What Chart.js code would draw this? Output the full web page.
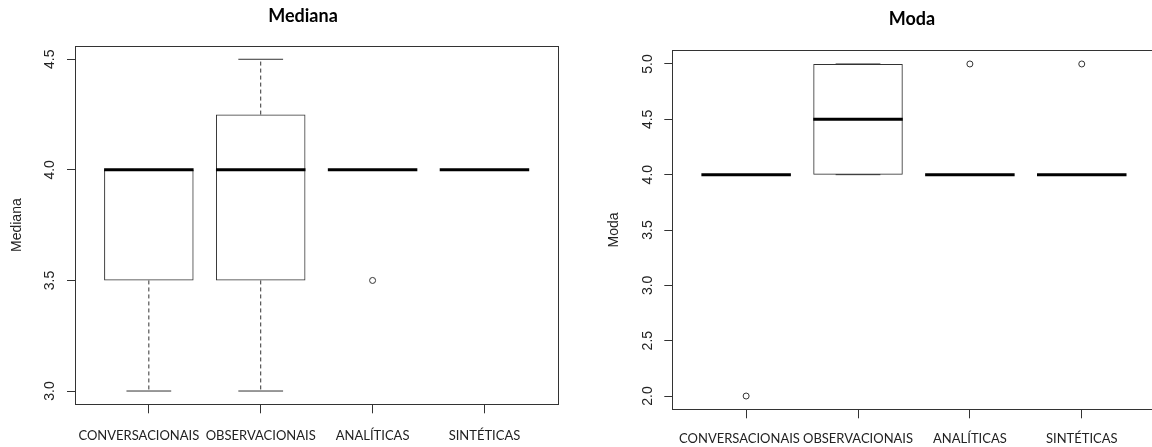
<!DOCTYPE html>
<html><head><meta charset="utf-8">
<script src="https://cdn.jsdelivr.net/npm/chart.js@4.4.1/dist/chart.umd.min.js"></script>
<style>
html,body{margin:0;padding:0;background:#fff;overflow:hidden;width:1152px;height:447px;position:relative;}
canvas{position:absolute;top:0;}
#c1{left:0px;} #c2{left:596px;}
</style></head><body>
<canvas id="c1" width="606" height="447"></canvas>
<canvas id="c2" width="632" height="447"></canvas>
<script>
// ---------- DATA ----------
const categories = ['CONVERSACIONAIS', 'OBSERVACIONAIS', 'ANALÍTICAS', 'SINTÉTICAS'];

// Panel 1: Mediana
const medianaMin      = [3.0, 3.0, 4.0, 4.0];
const medianaQ1       = [3.5, 3.5, 4.0, 4.0];
const medianaMedian   = [4.0, 4.0, 4.0, 4.0];
const medianaQ3       = [4.0, 4.25, 4.0, 4.0];
const medianaMax      = [4.0, 4.5, 4.0, 4.0];
const medianaOutliers = [[], [], [3.5], []];
const medianaTicks    = [3.0, 3.5, 4.0, 4.5];

// Panel 2: Moda
const modaMin      = [4.0, 4.0, 4.0, 4.0];
const modaQ1       = [4.0, 4.0, 4.0, 4.0];
const modaMedian   = [4.0, 4.5, 4.0, 4.0];
const modaQ3       = [4.0, 5.0, 4.0, 4.0];
const modaMax      = [4.0, 5.0, 4.0, 4.0];
const modaOutliers = [[2.0], [], [5.0], [5.0]];
const modaTicks    = [2.0, 2.5, 3.0, 3.5, 4.0, 4.5, 5.0];

// ---------- STYLE ----------
const LINE = '#333';
const TXT = '#222';
const BOX_HALF = 0.4;   // half box width in category units (R default 0.8)
const CAP_HALF = 0.2;   // half whisker-cap width
const LABEL_FONT = "Lato, 'Open Sans', sans-serif";
const AXIS_FONT = "'Liberation Sans', Arial, sans-serif";

Chart.defaults.font.family = AXIS_FONT;

function segs(pairs) {
  const out = [];
  pairs.forEach((p, i) => {
    if (i > 0) out.push({x: p[0][0], y: null});
    out.push({x: p[0][0], y: p[0][1]}, {x: p[1][0], y: p[1][1]});
  });
  return out;
}
function lineDs(data, opts) {
  return Object.assign({type: 'line', data, pointRadius: 0, pointHoverRadius: 0, fill: false,
    tension: 0, spanGaps: false, borderColor: LINE, borderWidth: 1, borderCapStyle: 'butt'}, opts);
}

function makeChart(id, p) {
  const n = categories.length;
  const idx = categories.map((c, i) => i + 1);
  const all = [].concat(p.min, p.max, ...p.out);
  const lo = Math.min(...all), hi = Math.max(...all);
  const ext = (hi - lo) * 0.04;
  const xExt = (n) * 0.04;

  const medians = segs(idx.map((x, i) => [[x - BOX_HALF, p.med[i]], [x + BOX_HALF, p.med[i]]]));
  const wLow = segs(idx.map((x, i) => [[x, p.q1[i]], [x, p.min[i]]]));
  const wHigh = segs(idx.map((x, i) => [[x, p.q3[i]], [x, p.max[i]]]));
  const cLow = segs(idx.map((x, i) => [[x - CAP_HALF, p.min[i]], [x + CAP_HALF, p.min[i]]]));
  const cHigh = segs(idx.map((x, i) => [[x - CAP_HALF, p.max[i]], [x + CAP_HALF, p.max[i]]]));
  const boxes = idx.map((x, i) => ({x, y: [p.q1[i], p.q3[i]]}));
  const outl = [];
  idx.forEach((x, i) => p.out[i].forEach(v => outl.push({x, y: v})));

  const hidden = {display: false};
  return new Chart(document.getElementById(id), {
    data: {
      datasets: [
        lineDs(medians, {borderColor: '#000', borderWidth: 3}),
        {type: 'scatter', data: outl, pointRadius: 3, pointHoverRadius: 3, pointBorderWidth: 1,
         pointBackgroundColor: 'rgba(0,0,0,0)', borderColor: LINE, backgroundColor: 'rgba(0,0,0,0)'},
        lineDs(wLow, {borderDash: [4, 3]}),
        lineDs(wHigh, {borderDash: [4, 3]}),
        lineDs(cLow, {}),
        lineDs(cHigh, {}),
        {type: 'bar', data: boxes, backgroundColor: 'rgba(255,255,255,0)', borderColor: LINE,
         borderWidth: 1, borderSkipped: false, barPercentage: BOX_HALF * 2, categoryPercentage: 1.0, grouped: false}
      ]
    },
    options: {
      responsive: false, animation: false, devicePixelRatio: 1, events: [],
      layout: {padding: 0},
      plugins: {
        legend: hidden, tooltip: {enabled: false},
        title: {display: true, text: p.title, color: '#000',
          font: {family: LABEL_FONT, size: 18, weight: 'bold'},
          padding: {top: p.titleTop, bottom: p.titleBottom}}
      },
      scales: {
        x: {type: 'linear', position: 'bottom', offset: false, min: 1 - 0.5 - xExt, max: n + 0.5 + xExt,
          afterBuildTicks: s => { s.ticks = idx.map(v => ({value: v})); },
          afterFit: s => { s.height = p.xAxisH; },
          ticks: {autoSkip: false, minRotation: 0, maxRotation: 0, padding: p.xLabelPad, color: TXT,
            font: {family: LABEL_FONT, size: 13},
            callback: (v, i) => categories[i] + (i === 0 ? ' '.repeat(p.firstShift) : '')},
          grid: {offset: false, drawOnChartArea: false, drawTicks: true, tickLength: 9, tickColor: LINE, color: LINE},
          border: {display: true, color: LINE, width: 1}
        },
        xTop: {type: 'linear', position: 'top', min: 0, max: 1, display: true, offset: false,
          afterFit: s => { s.height = 0; },
          ticks: {display: false}, grid: {display: false, drawTicks: false, offset: false},
          border: {display: true, color: LINE, width: 1}
        },
        y: {type: 'linear', position: 'left', min: lo - ext, max: hi + ext,
          afterBuildTicks: s => { s.ticks = p.ticks.map(v => ({value: v})); },
          afterFit: s => { s.width = p.yAxisW; },
          ticks: {minRotation: 90, maxRotation: 90, crossAlign: 'center', padding: p.yTickPad,
            color: TXT, font: {family: AXIS_FONT, size: 14}, callback: v => Number(v).toFixed(1)},
          grid: {drawOnChartArea: false, drawTicks: true, tickLength: 8, tickColor: LINE, color: LINE},
          border: {display: true, color: LINE, width: 1},
          title: {display: true, text: p.title, color: TXT, font: {family: AXIS_FONT, size: 14},
            padding: {top: p.yTitlePad, bottom: 0}}
        },
        yRight: {type: 'linear', position: 'right', min: 0, max: 1, display: true,
          afterFit: s => { s.width = p.padRight; },
          ticks: {display: false}, grid: {display: false, drawTicks: false},
          border: {display: true, color: LINE, width: 1}
        }
      }
    }
  });
}

makeChart('c1', {title: 'Mediana', min: medianaMin, q1: medianaQ1, med: medianaMedian, q3: medianaQ3,
  max: medianaMax, out: medianaOutliers, ticks: medianaTicks, firstShift: 6, xLabelPad: 15,
  padRight: 47.7, titleTop: 4.9, titleBottom: 19.5, xAxisH: 42.7, yAxisW: 75, yTickPad: 7.5, yTitlePad: 8.3});
makeChart('c2', {title: 'Moda', min: modaMin, q1: modaQ1, med: modaMedian, q3: modaQ3,
  max: modaMax, out: modaOutliers, ticks: modaTicks, firstShift: 4, xLabelPad: 13,
  padRight: 72.4, titleTop: 8.4, titleBottom: 20.7, xAxisH: 37.7, yAxisW: 76.3, yTickPad: 6, yTitlePad: 9.8});
</script>
</body></html>
